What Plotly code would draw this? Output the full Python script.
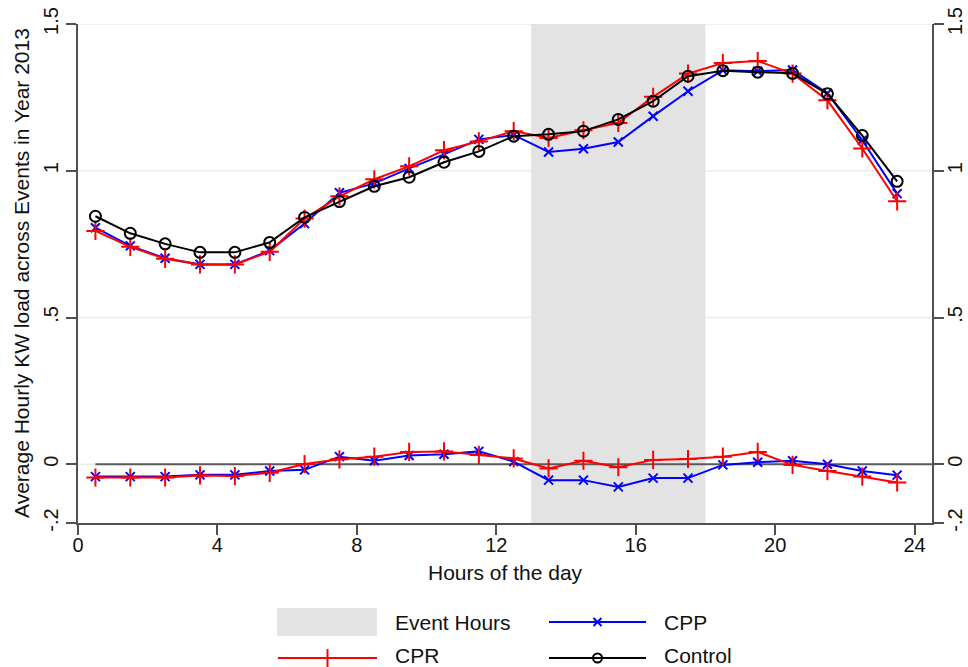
import plotly.graph_objects as go

# ---------------- data ----------------
hours = [h + 0.5 for h in range(24)]

control = [0.845, 0.787, 0.751, 0.722, 0.722, 0.756, 0.841, 0.895, 0.947, 0.978,
           1.029, 1.066, 1.118, 1.124, 1.135, 1.175, 1.237, 1.322, 1.341, 1.336,
           1.332, 1.262, 1.120, 0.964]

cpp = [0.806, 0.744, 0.702, 0.681, 0.681, 0.728, 0.820, 0.925, 0.957, 1.008,
       1.056, 1.107, 1.122, 1.064, 1.075, 1.098, 1.186, 1.271, 1.342, 1.339,
       1.343, 1.264, 1.104, 0.922]

cpr = [0.795, 0.741, 0.700, 0.681, 0.681, 0.724, 0.837, 0.913, 0.971, 1.015,
       1.070, 1.100, 1.135, 1.112, 1.138, 1.163, 1.252, 1.331, 1.367, 1.374,
       1.331, 1.240, 1.076, 0.896]

cpp_diff = [-0.042, -0.042, -0.042, -0.036, -0.036, -0.023, -0.019, 0.026, 0.012, 0.030,
            0.034, 0.044, 0.009, -0.054, -0.054, -0.077, -0.047, -0.047, -0.002, 0.007,
            0.012, 0.000, -0.023, -0.037]

cpr_diff = [-0.045, -0.045, -0.045, -0.038, -0.040, -0.029, 0.001, 0.017, 0.026, 0.042,
            0.044, 0.032, 0.020, -0.014, 0.012, -0.010, 0.015, 0.018, 0.026, 0.042,
            -0.002, -0.023, -0.042, -0.062]

event_start, event_end = 13, 18

x_ticks = [0, 4, 8, 12, 16, 20, 24]
x_tick_labels = ["0", "4", "8", "12", "16", "20", "24"]
y_ticks = [-0.2, 0, 0.5, 1, 1.5]
y_tick_labels = ["-.2", "0", ".5", "1", "1.5"]

legend_labels = ["Event Hours", "CPP", "CPR", "Control"]
x_title = "Hours of the day"
y_title = "Average Hourly KW load across Events in Year 2013"

# ---------------- style ----------------
W, H = 968, 667
M_L, M_R, M_T, M_B = 78, 36, 24, 0
PLOT_BOTTOM_PX = 523
FONT = "Liberation Sans, Arial, Helvetica, sans-serif"
AXIS_COL = "#505050"
GRID_COL = "#e6eef0"
SHADE_COL = "#e3e3e3"
BLUE, RED, BLACK = "#0000ff", "#ff0000", "#000000"
X_MAX = 24.5

paper_h = H - M_T - M_B
paper_w = W - M_L - M_R
y_dom_bottom = (H - M_B - PLOT_BOTTOM_PX) / paper_h


def px_x(px):
    return (px - M_L) / paper_w


def px_y(py):
    return (H - M_B - py) / paper_h


fig = go.Figure()

# gridlines (drawn as shapes so the shading covers them)
for yv in y_ticks[1:]:
    fig.add_shape(type="line", xref="paper", yref="y", x0=0, x1=1, y0=yv, y1=yv,
                  line=dict(color=GRID_COL, width=1.5), layer="below")

# event-hours shading and zero line
fig.add_shape(type="rect", xref="x", yref="paper", x0=event_start, x1=event_end,
              y0=y_dom_bottom, y1=1, fillcolor=SHADE_COL, line=dict(width=0), layer="below")
fig.add_shape(type="line", xref="x", yref="y", x0=hours[0], x1=X_MAX, y0=0, y1=0,
              line=dict(color="#5a5a5a", width=2), layer="below")

series = [
    (cpp, BLUE, "x-thin", 9),
    (cpr, RED, "cross-thin", 13),
    (control, BLACK, "circle-open", 11),
    (cpp_diff, BLUE, "x-thin", 9),
    (cpr_diff, RED, "cross-thin", 13),
]
for vals, col, sym, size in series:
    fig.add_trace(go.Scatter(
        x=hours, y=vals, mode="lines+markers",
        line=dict(color=col, width=2),
        marker=dict(symbol=sym, size=size, color=col, line=dict(color=col, width=2)),
        showlegend=False, hoverinfo="skip"))

# invisible trace for right axis
fig.add_trace(go.Scatter(x=[hours[0]], y=[control[0]], yaxis="y3", mode="markers",
                         marker=dict(opacity=0), showlegend=False, hoverinfo="skip"))

# ---------------- manual legend (pixel coordinates on helper axes) ----------------
LEG_TOP = 595
leg_rows = [622, 658]
leg_text_rows = [622, 655]
leg_sym_x = [(278, 377), (549, 646)]
leg_txt_x = [393, 662]

fig.add_shape(type="rect", xref="paper", yref="paper", x0=px_x(277), x1=px_x(377),
              y0=px_y(636), y1=px_y(608), fillcolor=SHADE_COL, line=dict(width=0),
              layer="below")
leg_items = [
    (1, 0, BLUE, "x-thin", 8),
    (0, 1, RED, "cross-thin", 13),
    (1, 1, BLACK, "circle-open", 9),
]
for col_i, row_i, col, sym, size in leg_items:
    x0, x1 = leg_sym_x[col_i]
    yy = leg_rows[row_i]
    fig.add_trace(go.Scatter(x=[x0, x1], y=[yy, yy], xaxis="x2", yaxis="y2", mode="lines",
                             line=dict(color=col, width=2), showlegend=False, hoverinfo="skip"))
    fig.add_trace(go.Scatter(x=[(x0 + x1) / 2], y=[yy], xaxis="x2", yaxis="y2", mode="markers",
                             marker=dict(symbol=sym, size=size, color=col,
                                         line=dict(color=col, width=2)),
                             showlegend=False, hoverinfo="skip", cliponaxis=False))

annotations = []
for i, lab in enumerate(legend_labels):
    row_i, col_i = divmod(i, 2)
    annotations.append(dict(xref="x2", yref="y2", x=leg_txt_x[col_i], y=leg_text_rows[row_i],
                            text=lab, showarrow=False, xanchor="left", yanchor="middle",
                            font=dict(family=FONT, size=21, color="#111")))

annotations.append(dict(xref="paper", yref="paper", x=px_x(505), y=px_y(572), text=x_title,
                        showarrow=False, xanchor="center", yanchor="middle",
                        font=dict(family=FONT, size=21, color="#111")))
annotations.append(dict(xref="paper", yref="paper", x=px_x(21), y=px_y(273), text=y_title,
                        textangle=-90, showarrow=False, xanchor="center", yanchor="middle",
                        font=dict(family=FONT, size=21, color="#111")))

axis_common = dict(showline=True, linecolor=AXIS_COL, linewidth=1.5, ticks="outside",
                   ticklen=10, tickwidth=1.5, tickcolor=AXIS_COL, automargin=False,
                   tickfont=dict(family=FONT, size=20, color="#111"), zeroline=False)

fig.update_layout(
    width=W, height=H,
    margin=dict(l=M_L, r=M_R, t=M_T, b=M_B, pad=0, autoexpand=False),
    paper_bgcolor="white", plot_bgcolor="white",
    showlegend=False,
    xaxis=dict(range=[0, X_MAX], tickvals=x_ticks, ticktext=x_tick_labels, showgrid=False,
               anchor="y", ticklabelstandoff=-7, **axis_common),
    yaxis=dict(range=[-0.2, 1.5], domain=[y_dom_bottom, 1], tickvals=y_ticks,
               ticktext=y_tick_labels, tickangle=-90, showgrid=False, **axis_common),
    yaxis3=dict(range=[-0.2, 1.5], overlaying="y", side="right", anchor="x", tickvals=y_ticks,
                ticktext=y_tick_labels, tickangle=-90, showgrid=False, ticklabelstandoff=-6,
                **axis_common),
    xaxis2=dict(domain=[0, 1], range=[M_L, W - M_R], anchor="y2", visible=False,
                fixedrange=True, automargin=False),
    yaxis2=dict(domain=[0, px_y(LEG_TOP)], range=[H - M_B, LEG_TOP], anchor="x2", visible=False,
                fixedrange=True, automargin=False),
    annotations=annotations,
)

fig.write_html("out.html")
